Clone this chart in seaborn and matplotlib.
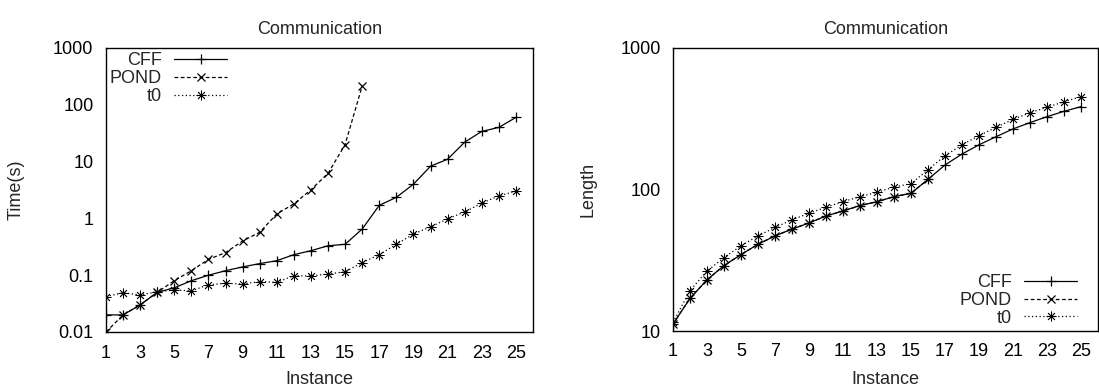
import numpy as np
import pandas as pd
import matplotlib
matplotlib.use("Agg")
import matplotlib.pyplot as plt
import seaborn as sns

# ---------------- data ----------------
instances = list(range(1, 26))
pond_instances = list(range(1, 17))

time_cff = [0.02, 0.02, 0.03, 0.05, 0.06, 0.08, 0.1, 0.12, 0.14, 0.16, 0.18, 0.23,
            0.27, 0.33, 0.35, 0.65, 1.7, 2.35, 4.0, 8.3, 11, 22, 34, 40, 60]
time_pond = [0.01, 0.02, 0.03, 0.05, 0.08, 0.12, 0.19, 0.25, 0.4, 0.57, 1.2, 1.8,
             3.2, 6.2, 20, 215]
time_t0 = [0.042, 0.049, 0.045, 0.051, 0.055, 0.053, 0.068, 0.072, 0.07, 0.077, 0.075, 0.098,
           0.097, 0.105, 0.115, 0.167, 0.23, 0.35, 0.53, 0.71, 0.98, 1.3, 1.85, 2.5, 3.0]

len_cff = [11.2, 17, 23, 29, 34.7, 41, 47, 52.5, 58, 65, 70.5, 77,
           82, 89, 94, 118, 149, 178, 207, 236, 268, 297, 327, 357, 385]
len_pond = [11.2, 17, 23, 29, 34.7, 41, 47, 52.5, 58, 65, 70.5, 77,
            82, 89, 94, 118]
len_t0 = [11.5, 19.3, 26.5, 33, 40, 47, 54, 61, 68, 75, 82, 89,
          95.6, 104, 110, 138, 173, 207, 240, 275, 313, 349, 381, 417, 453]

series_names = ["CFF", "POND", "t0"]
x_ticks = list(range(1, 26, 2))
time_ticks = [0.01, 0.1, 1, 10, 100, 1000]
time_ticklabels = ["0.01", "0.1", "1", "10", "100", "1000"]
len_ticks = [10, 100, 1000]
len_ticklabels = ["10", "100", "1000"]

# ---------------- style ----------------
sns.set_style("white")
plt.rcParams["font.family"] = ["Liberation Sans", "DejaVu Sans"]
FS = 13

styles = {
    "CFF": dict(marker="+", linestyle="-", markersize=7, mew=0.9),
    "POND": dict(marker="x", linestyle=(0, (3, 2)), markersize=6, mew=0.9),
    "t0": dict(marker=(8, 2, 0), linestyle=(0, (1, 2)), markersize=7, mew=0.6),
}

fig = plt.figure(figsize=(10.99, 3.91), dpi=100)
W, H = 1099, 391
ax1 = fig.add_axes([106 / W, 1 - 332 / H, (533 - 106) / W, (332 - 48) / H])
ax2 = fig.add_axes([673 / W, 1 - 331 / H, (1098 - 673) / W, (331 - 48) / H])


def draw(ax, data):
    for name, (xs, ys) in zip(series_names, data):
        df = pd.DataFrame({"Instance": xs, "value": ys})
        st = styles[name]
        sns.lineplot(data=df, x="Instance", y="value", ax=ax, color="black",
                     linewidth=0.9, marker=st["marker"], linestyle=st["linestyle"],
                     markersize=st["markersize"], markeredgewidth=st["mew"],
                     markeredgecolor="black", errorbar=None, label=name)
    ax.set_yscale("log")
    ax.set_xlim(1, 26)
    ax.set_xticks(x_ticks)
    ax.set_xticklabels([str(v) for v in x_ticks])
    ax.minorticks_off()
    ax.tick_params(axis="both", length=0, labelsize=FS, colors="black")
    ax.tick_params(axis="x", pad=9)
    ax.tick_params(axis="y", pad=9)
    for sp in ax.spines.values():
        sp.set_color("black")
        sp.set_linewidth(1.0)
        sp.set_visible(True)
    ax.set_title("Communication", fontsize=FS, pad=10)
    ax.set_xlabel("Instance", fontsize=FS)


draw(ax1, [(instances, time_cff), (pond_instances, time_pond), (instances, time_t0)])
ax1.set_ylim(0.01, 1000)
ax1.set_yticks(time_ticks)
ax1.set_yticklabels(time_ticklabels)
ax1.minorticks_off()
ax1.set_ylabel("Time(s)", fontsize=FS)
ax1.yaxis.set_label_coords(-0.19, 0.5)
ax1.xaxis.set_label_coords(0.5, -0.137)

draw(ax2, [(instances, len_cff), (pond_instances, len_pond), (instances, len_t0)])
ax2.set_ylim(10, 1000)
ax2.set_yticks(len_ticks)
ax2.set_yticklabels(len_ticklabels)
ax2.minorticks_off()
ax2.set_ylabel("Length", fontsize=FS)
ax2.yaxis.set_label_coords(-0.181, 0.5)
ax2.xaxis.set_label_coords(0.5, -0.141)

leg_kw = dict(frameon=False, markerfirst=False, fontsize=FS, handlelength=2.9,
              handletextpad=0.7, labelspacing=0.05, borderpad=0, borderaxespad=0)
ax1.legend(loc="upper right", bbox_to_anchor=(0.283, 0.985), **leg_kw)
ax2.legend(loc="lower right", bbox_to_anchor=(0.95, 0.015), **leg_kw)

fig.savefig("out.png", dpi=100)
